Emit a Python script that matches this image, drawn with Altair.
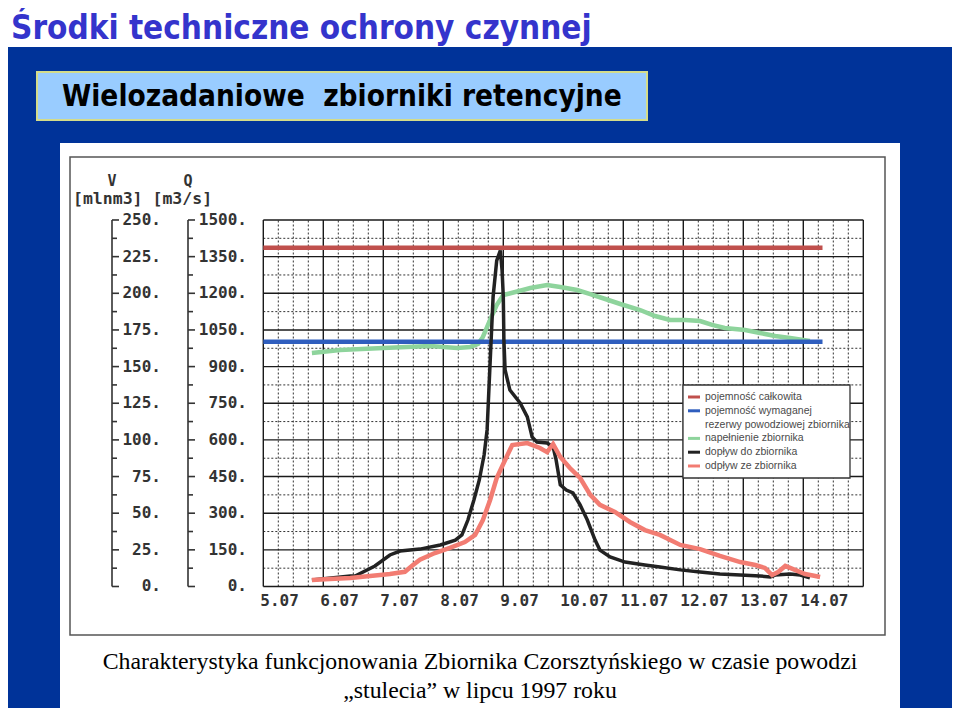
import altair as alt
import pandas as pd

# ---------------- data ----------------
# x: day of July 1997 (5.0 = 5.07 00:00), Q in m3/s, V in mln m3
days_in = [5.81, 6.45, 6.53, 6.86, 7.11, 7.28, 7.61, 7.95, 8.20, 8.31, 8.41, 8.51, 8.60,
           8.68, 8.73, 8.78, 8.83, 8.89, 8.95, 8.98, 9.00, 9.01, 9.03, 9.11, 9.28, 9.40,
           9.48, 9.56, 9.73, 9.83, 9.88, 9.95, 10.05, 10.16, 10.28, 10.40, 10.53, 10.61,
           10.78, 11.03, 11.36, 11.61, 11.95, 12.28, 12.61, 12.95, 13.28, 13.45, 13.53,
           13.78, 13.95, 14.11]
q_in = [27, 43, 43, 84, 129, 145, 153, 170, 190, 211, 272, 354, 436,
        538, 641, 915, 1186, 1334, 1375, 1293, 1186, 1009, 886, 804, 751, 694,
        612, 591, 587, 571, 518, 416, 395, 383, 334, 272, 190, 149,
        121, 100, 88, 80, 68, 59, 51, 47, 43, 39, 47,
        51, 47, 35]

days_out = [5.81, 6.11, 6.45, 6.78, 7.11, 7.36, 7.48, 7.61, 7.86, 8.11, 8.36, 8.53, 8.66,
            8.78, 8.89, 9.03, 9.15, 9.40, 9.61, 9.73, 9.83, 9.95, 10.11, 10.28, 10.45,
            10.61, 10.86, 11.11, 11.36, 11.61, 11.95, 12.28, 12.61, 12.95, 13.20, 13.36,
            13.48, 13.58, 13.70, 13.86, 14.03, 14.20, 14.28]
q_out = [27, 31, 35, 43, 51, 60, 85, 110, 137, 158, 182, 211, 272,
         354, 444, 518, 579, 587, 567, 550, 583, 530, 485, 444, 375,
         334, 305, 264, 231, 211, 170, 153, 125, 100, 88, 76,
         47, 59, 84, 68, 51, 43, 39]

days_v = [5.81, 6.28, 7.0, 7.78, 8.23, 8.45, 8.58, 8.66, 8.78, 8.89, 9.0, 9.20, 9.45,
          9.73, 9.95, 10.23, 10.45, 10.70, 10.95, 11.28, 11.53, 11.78, 12.03, 12.28,
          12.48, 12.69, 13.03, 13.28, 13.53, 13.78, 14.11]
v_fill = [159.3, 161.3, 162.7, 164.0, 162.7, 163.4, 165.4, 170.2, 181.8, 192.0, 198.8,
          200.9, 203.6, 205.7, 204.3, 202.2, 199.5, 196.1, 192.7, 188.6, 184.5, 181.8,
          181.8, 181.1, 178.4, 176.3, 175.0, 172.9, 170.9, 169.5, 167.5]

days_const = [5.0, 14.32]
v_total = [231, 231]
v_reserve = [167, 167]

date_days = [5, 6, 7, 8, 9, 10, 11, 12, 13, 14]
date_labels = ["5.07", "6.07", "7.07", "8.07", "9.07", "10.07", "11.07", "12.07", "13.07", "14.07"]
v_ticks = [0, 25, 50, 75, 100, 125, 150, 175, 200, 225, 250]
v_labels = ["0.", "25.", "50.", "75.", "100.", "125.", "150.", "175.", "200.", "225.", "250."]
v_minor = [12.5, 37.5, 62.5, 87.5, 112.5, 137.5, 162.5, 187.5, 212.5, 237.5]
q_ticks = [0, 150, 300, 450, 600, 750, 900, 1050, 1200, 1350, 1500]
q_labels = ["0.", "150.", "300.", "450.", "600.", "750.", "900.", "1050.", "1200.", "1350.", "1500."]
q_minor = [75, 225, 375, 525, 675, 825, 975, 1125, 1275, 1425]
grid_days = [5, 6, 7, 8, 9, 10, 11, 12, 13, 14, 15]
grid_days_minor = [d + f for d in range(5, 15) for f in (0.25, 0.5, 0.75)]

legend_labels = ["pojemność całkowita", "pojemność wymaganej", "rezerwy powodziowej zbiornika",
                 "napełnienie zbiornika", "dopływ do zbiornika", "odpływ ze zbiornika"]
legend_colors = ["#C0504D", "#2F5EBE", "", "#8ED49C", "#222222", "#F27C72"]

title = "Środki techniczne ochrony czynnej"
subtitle = "Wielozadaniowe\u00a0 zbiorniki retencyjne"
caption = ["Charakterystyka funkcjonowania Zbiornika Czorsztyńskiego w czasie powodzi",
           "„stulecia” w lipcu 1997 roku"]

# ---------------- scales ----------------
W, H = 944, 700
X_DOM = [0.745, 16.4783]
Q_DOM = [-497.27, 2367.6]
V_DOM = [Q_DOM[0] / 6, Q_DOM[1] / 6]
Q_MAX = 1500

xs = alt.Scale(domain=X_DOM, nice=False, zero=False)
qs = alt.Scale(domain=Q_DOM, nice=False, zero=False)
vs = alt.Scale(domain=V_DOM, nice=False, zero=False)

MONO = "DejaVu Sans Mono"
SANS_B = "DejaVu Sans Condensed, DejaVu Sans"


def one():
    return alt.Chart(pd.DataFrame({"a": [0]}))


def XD(f):
    return alt.X(f, type="quantitative", scale=xs, axis=None)


def YQ(f):
    return alt.Y(f, type="quantitative", scale=qs, axis=None)


def YV(f):
    return alt.Y(f, type="quantitative", scale=vs, axis=None)


layers = []

# slide background
layers.append(one().mark_rect(color="#003399").encode(
    x=alt.value(-8), x2=alt.value(W + 8), y=alt.value(39), y2=alt.value(H + 8)))
layers.append(one().mark_rect(color="#ffffff").encode(
    x=alt.value(52), x2=alt.value(892), y=alt.value(135), y2=alt.value(H)))
layers.append(alt.Chart(pd.DataFrame({"t": [title]})).mark_text(
    align="left", baseline="alphabetic", font=SANS_B, fontWeight="bold", fontSize=33,
    color="#3434CC").encode(text="t:N", x=alt.value(3), y=alt.value(31)))
layers.append(one().mark_rect(fill="#99CCFF", stroke="#D4DC8A", strokeWidth=2).encode(
    x=alt.value(29), x2=alt.value(639), y=alt.value(64), y2=alt.value(112)))
layers.append(alt.Chart(pd.DataFrame({"t": [subtitle]})).mark_text(
    align="left", baseline="middle", font=SANS_B, fontWeight="bold", fontSize=29.5,
    color="#000000").encode(text="t:N", x=alt.value(54), y=alt.value(89)))
# scanned picture border
layers.append(one().mark_rect(fill=None, stroke="#555555", strokeWidth=1.5).encode(
    x=alt.value(62), x2=alt.value(877), y=alt.value(149), y2=alt.value(627)))

# grid
gmin_v = pd.DataFrame({"d": grid_days_minor, "q0": 0, "q1": Q_MAX})
gmin_h = pd.DataFrame({"q": q_minor, "d0": grid_days[0], "d1": grid_days[-1]})
gmaj_v = pd.DataFrame({"d": grid_days, "q0": 0, "q1": Q_MAX})
gmaj_h = pd.DataFrame({"q": q_ticks, "d0": grid_days[0], "d1": grid_days[-1]})
layers.append(alt.Chart(gmin_v).mark_rule(color="#333333", strokeWidth=1, strokeDash=[2, 2]).encode(
    x=XD("d"), y=YQ("q0"), y2="q1:Q"))
layers.append(alt.Chart(gmin_h).mark_rule(color="#333333", strokeWidth=1, strokeDash=[2, 2]).encode(
    x=XD("d0"), x2="d1:Q", y=YQ("q")))
layers.append(alt.Chart(gmaj_v).mark_rule(color="#1a1a1a", strokeWidth=1.4).encode(
    x=XD("d"), y=YQ("q0"), y2="q1:Q"))
layers.append(alt.Chart(gmaj_h).mark_rule(color="#1a1a1a", strokeWidth=1.4).encode(
    x=XD("d0"), x2="d1:Q", y=YQ("q")))

# data lines
df_v = pd.DataFrame({"d": days_v, "v": v_fill})
df_tot = pd.DataFrame({"d": days_const, "v": v_total})
df_res = pd.DataFrame({"d": days_const, "v": v_reserve})
df_in = pd.DataFrame({"d": days_in, "q": q_in})
df_out = pd.DataFrame({"d": days_out, "q": q_out})
layers.append(alt.Chart(df_v).mark_line(color=legend_colors[3], strokeWidth=4.5).encode(
    x=XD("d"), y=YV("v"), order="d:Q"))
layers.append(alt.Chart(df_res).mark_line(color=legend_colors[1], strokeWidth=4.5).encode(
    x=XD("d"), y=YV("v")))
layers.append(alt.Chart(df_tot).mark_line(color=legend_colors[0], strokeWidth=4.5).encode(
    x=XD("d"), y=YV("v")))
layers.append(alt.Chart(df_in).mark_line(color=legend_colors[4], strokeWidth=3.5).encode(
    x=XD("d"), y=YQ("q"), order="d:Q"))
layers.append(alt.Chart(df_out).mark_line(color=legend_colors[5], strokeWidth=4.5).encode(
    x=XD("d"), y=YQ("q"), order="d:Q"))

# left axes
ax_v = pd.DataFrame({"v0": [0], "v1": [v_ticks[-1]]})
layers.append(alt.Chart(ax_v).mark_rule(color="#333333", strokeWidth=1.6).encode(
    x=alt.value(104), y=YV("v0"), y2="v1:Q"))
layers.append(alt.Chart(ax_v).mark_rule(color="#333333", strokeWidth=1.6).encode(
    x=alt.value(180), y=YV("v0"), y2="v1:Q"))
df_vt = pd.DataFrame({"v": v_ticks, "lab": v_labels})
df_qt = pd.DataFrame({"q": q_ticks, "lab": q_labels})
layers.append(alt.Chart(df_vt).mark_rule(color="#333333", strokeWidth=1.6).encode(
    x=alt.value(104), x2=alt.value(111), y=YV("v")))
layers.append(alt.Chart(pd.DataFrame({"v": v_minor})).mark_rule(color="#333333", strokeWidth=1.6).encode(
    x=alt.value(104), x2=alt.value(109), y=YV("v")))
layers.append(alt.Chart(df_qt).mark_rule(color="#333333", strokeWidth=1.6).encode(
    x=alt.value(180), x2=alt.value(187), y=YQ("q")))
layers.append(alt.Chart(pd.DataFrame({"q": q_minor})).mark_rule(color="#333333", strokeWidth=1.6).encode(
    x=alt.value(180), x2=alt.value(185), y=YQ("q")))
layers.append(alt.Chart(df_vt).mark_text(
    align="right", baseline="middle", font=MONO, fontWeight="bold", fontSize=16, color="#333333").encode(
    x=alt.value(153), y=YV("v"), text="lab:N"))
layers.append(alt.Chart(df_qt).mark_text(
    align="right", baseline="middle", font=MONO, fontWeight="bold", fontSize=16, color="#333333").encode(
    x=alt.value(239), y=YQ("q"), text="lab:N"))
layers.append(alt.Chart(pd.DataFrame({"t": ["V"]})).mark_text(
    align="center", baseline="middle", font=MONO, fontWeight="bold", fontSize=15, color="#333333").encode(
    x=alt.value(104), y=alt.value(173), text="t:N"))
layers.append(alt.Chart(pd.DataFrame({"t": ["Q"]})).mark_text(
    align="center", baseline="middle", font=MONO, fontWeight="bold", fontSize=15, color="#333333").encode(
    x=alt.value(180), y=alt.value(173), text="t:N"))
layers.append(alt.Chart(pd.DataFrame({"t": ["[mlnm3] [m3/s]"]})).mark_text(
    align="left", baseline="middle", font=MONO, fontWeight="bold", fontSize=16.5, color="#333333").encode(
    x=alt.value(65), y=alt.value(191), text="t:N"))

# date labels
df_dates = pd.DataFrame({"d": date_days, "lab": date_labels})
layers.append(alt.Chart(df_dates).mark_text(
    align="left", baseline="middle", font=MONO, fontWeight="bold", fontSize=16, color="#333333", dx=-3).encode(
    x=XD("d"), y=alt.value(593), text="lab:N"))

# legend
layers.append(one().mark_rect(fill="#ffffff", stroke="#333333", strokeWidth=1.3).encode(
    x=alt.value(675), x2=alt.value(842), y=alt.value(377), y2=alt.value(470)))
df_leg = pd.DataFrame({"row": list(range(len(legend_labels))), "lab": legend_labels, "col": legend_colors})
ly = alt.Y("row:O", scale=alt.Scale(type="point", domain=list(range(len(legend_labels))),
                                     range=[389, 458], padding=0), axis=None)
layers.append(alt.Chart(df_leg).transform_filter("datum.col != ''").mark_rule(strokeWidth=3).encode(
    x=alt.value(680), x2=alt.value(692), y=ly, color=alt.Color("col:N", scale=None)))
layers.append(alt.Chart(df_leg).mark_text(
    align="left", baseline="middle", font="Liberation Sans",
    fontSize=10.5, color="#4a4a4a").encode(x=alt.value(697), y=ly, text="lab:N"))

# caption
layers.append(alt.Chart(pd.DataFrame({"t": [caption[0]]})).mark_text(
    align="center", baseline="middle", font="Liberation Serif", fontSize=23.8, color="#000000").encode(
    x=alt.value(472), y=alt.value(654), text="t:N"))
layers.append(alt.Chart(pd.DataFrame({"t": [caption[1]]})).mark_text(
    align="center", baseline="middle", font="Liberation Serif", fontSize=23.8, color="#000000").encode(
    x=alt.value(472), y=alt.value(683), text="t:N"))

chart = alt.layer(*layers).resolve_scale(y="independent").properties(
    width=W, height=H, padding=0, autosize=alt.AutoSizeParams(type="none")
).configure_view(stroke=None)

chart.save("out.html", embed_options={"renderer": "svg", "actions": False})
